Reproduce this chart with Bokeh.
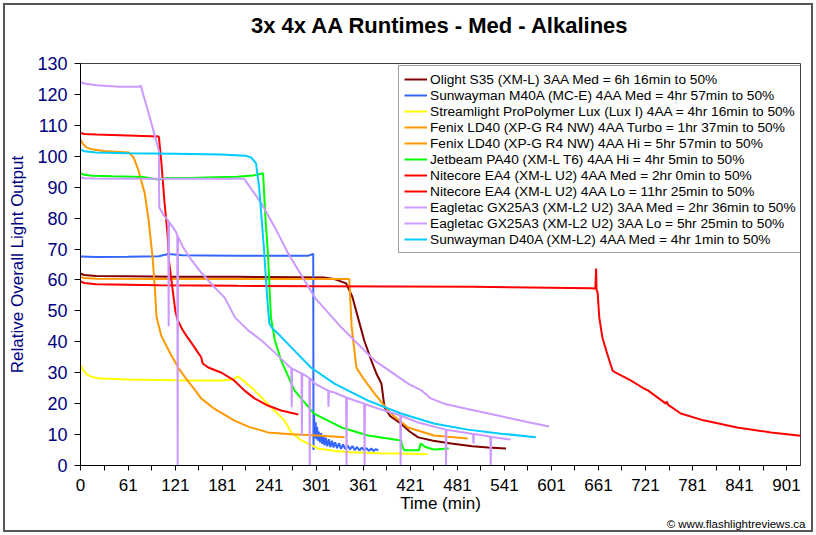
from bokeh.plotting import figure
from bokeh.models import Range1d, FixedTicker, Legend, LegendItem, Title, InlineStyleSheet
from bokeh.embed import file_html
from bokeh.resources import INLINE

# ---------------- data ----------------
olight_t = [0, 5, 20, 60, 120, 200, 280, 311, 325, 339, 347, 354, 362, 371, 378, 384, 388, 395, 409, 420, 431, 450, 473, 500, 520, 543]
olight_v = [62.0, 61.6, 61.3, 61.2, 61.0, 61.0, 60.9, 60.8, 60.2, 58.9, 54.5, 47.9, 40.5, 34.0, 29.5, 26.5, 18.8, 16.0, 13.5, 11.0, 9.1, 8.0, 7.1, 6.2, 5.8, 5.5]

m40a_t = [0, 20, 60, 100, 112, 130, 160, 200, 250, 290, 296, 297.0, 297.3, 298.0, 299.0, 300.0, 301.0, 302.0, 303.0, 304.0, 305.5, 307.0,
          308.5, 310.0, 311.5, 313.0, 315.0, 317.0, 319.0, 321.0, 323.0, 325.0, 327.5, 330.0, 332.5, 335.0, 338.0, 341.0, 344.0,
          347.0, 350.0, 353.0, 356.0, 359.0, 362.0, 365.0, 368.0, 371.0, 374.0, 377.0, 380.0]
m40a_v = [67.6, 67.4, 67.5, 67.7, 68.4, 68.0, 67.9, 67.8, 67.8, 67.8, 68.3, 68.5, 5.0, 16.5, 9.0, 14.0, 8.5, 12.5, 8.0, 11.0, 7.5, 10.5,
          7.0, 9.5, 6.5, 9.0, 6.2, 8.5, 6.0, 8.0, 5.8, 7.5, 5.6, 7.2, 5.4, 6.8, 5.3, 6.5, 5.2,
          6.3, 5.0, 6.0, 4.9, 5.8, 4.8, 5.6, 4.7, 5.5, 4.7, 5.3, 4.9]

streamlight_t = [0, 3, 8, 15, 25, 60, 120, 180, 195, 201, 210, 222, 241, 260, 269, 282, 303, 325, 345, 380, 409, 443]
streamlight_v = [32.3, 31.0, 29.5, 28.6, 28.1, 27.8, 27.6, 27.5, 27.8, 28.8, 27.0, 24.3, 19.4, 14.6, 10.7, 8.1, 5.5, 4.7, 4.3, 4.0, 3.9, 3.6]

ld40_turbo_t = [0, 3, 8, 14, 30, 50, 62, 68, 74, 82, 87, 92, 95, 97, 100, 103, 110, 116, 125, 135, 145, 154, 170, 196, 215, 239, 269, 303, 337]
ld40_turbo_v = [105.4, 104.0, 102.8, 102.3, 101.7, 101.4, 101.2, 99.5, 95.4, 88.0, 79.2, 67.3, 57.0, 48.0, 45.0, 42.0, 38.5, 35.6, 31.5, 28.0, 24.8, 21.7, 18.5, 14.6, 12.5, 10.7, 10.1, 9.7, 9.1]

ld40_hi_t = [0, 5, 20, 100, 200, 300, 343, 346, 352, 360, 375, 396, 418, 451, 494]
ld40_hi_v = [61.0, 60.6, 60.4, 60.3, 60.3, 60.3, 60.3, 45.0, 31.7, 28.5, 23.3, 16.8, 12.3, 9.7, 8.7]

pa40_t = [0, 5, 15, 40, 80, 99, 110, 140, 170, 200, 220, 228, 233, 236, 239, 243, 248, 256, 273, 298, 333, 367, 409, 411, 413, 432, 434, 440, 451, 470]
pa40_v = [94.5, 94.0, 93.7, 93.5, 93.3, 92.5, 93.0, 93.0, 93.2, 93.4, 93.8, 94.2, 94.5, 80.0, 69.5, 48.0, 40.5, 34.0, 24.3, 16.8, 12.3, 9.7, 8.1, 6.0, 4.9, 4.9, 7.1, 6.0, 5.2, 5.5]

ea4_med_t = [0, 5, 20, 60, 100, 103, 107, 111, 113, 118, 121, 124, 130, 135, 142, 150, 154, 156, 163, 180, 196, 209, 222, 239, 256, 278]
ea4_med_v = [107.5, 107.2, 107.0, 106.7, 106.4, 98.6, 85.7, 75.0, 66.0, 56.0, 50.0, 47.0, 44.0, 42.0, 39.5, 36.5, 35.0, 33.0, 31.7, 30.0, 27.5, 24.3, 21.7, 19.4, 17.8, 16.5]

ea4_lo_t = [0, 5, 20, 100, 200, 300, 400, 500, 600, 650, 657, 658, 658.5, 660, 662, 666, 672, 679, 683, 702, 719, 724, 747, 748, 750, 766, 795, 838, 881, 919, 930]
ea4_lo_v = [59.5, 59.0, 58.6, 58.3, 58.1, 58.0, 57.9, 57.8, 57.5, 57.3, 57.2, 63.7, 57.0, 55.6, 47.9, 41.4, 36.2, 30.7, 30.0, 27.5, 24.9, 24.3, 20.0, 20.7, 19.6, 16.8, 14.6, 12.3, 10.7, 9.6, 9.4]

gx25_med_t = [0, 5, 20, 50, 75, 77, 80, 86, 94, 100, 100.5, 106, 112, 112.5, 113, 118, 122, 123.5, 124, 124.5, 130, 140, 154, 171, 184, 197,
              214, 231, 248, 265, 269, 269.5, 270, 282, 282.5, 283, 292, 292.5, 293, 299, 316, 316.5, 317, 324, 339, 339.5, 340, 350,
              362, 362.5, 363, 375, 400, 408, 408.5, 409, 431, 466, 466.5, 467, 473, 501, 501.5, 502, 515, 523, 523.5, 524, 549]
gx25_med_v = [124.0, 123.5, 123.0, 122.5, 122.5, 122.9, 120.0, 114.8, 107.4, 101.9, 83.4, 81.0, 79.2, 45.0, 78.8, 77.0, 75.5, 74.5, 0.0, 74.0, 71.0, 67.0, 62.4, 57.6, 54.3, 47.9,
              43.7, 40.4, 36.5, 32.3, 31.5, 18.8, 31.3, 29.8, 9.7, 29.7, 28.3, 0.0, 28.2, 26.5, 24.2, 19.0, 24.1, 23.6, 22.0, 0.0, 21.9, 21.0,
              20.0, 0.0, 19.9, 18.8, 16.8, 16.2, 0.0, 16.1, 13.9, 11.6, 0.0, 11.5, 11.3, 10.2, 7.1, 10.2, 9.7, 9.3, 0.0, 9.2, 8.4]

gx25_lo_t = [0, 5, 20, 60, 120, 180, 209, 231, 248, 265, 299, 333, 375, 418, 435, 447, 464, 494, 537, 570, 598]
gx25_lo_v = [93.1, 92.9, 92.8, 92.7, 92.7, 92.7, 92.7, 84.7, 77.0, 68.6, 54.3, 44.6, 34.0, 26.5, 24.3, 21.7, 20.0, 18.3, 15.9, 14.1, 12.6]

d40a_t = [0, 5, 20, 60, 120, 180, 210, 218, 224, 228, 231, 234, 238, 241, 245, 252, 269, 294, 324, 367, 409, 451, 494, 537, 581]
d40a_v = [102.2, 101.6, 101.2, 101.0, 100.8, 100.6, 100.2, 99.6, 97.7, 89.9, 80.2, 70.5, 55.0, 45.9, 44.3, 42.7, 38.2, 31.7, 26.5, 21.0, 16.8, 13.6, 11.6, 10.3, 9.1]

series_names = [
    "Olight S35 (XM-L) 3AA Med = 6h 16min to 50%",
    "Sunwayman M40A (MC-E) 4AA Med = 4hr 57min to 50%",
    "Streamlight ProPolymer Lux (Lux I) 4AA = 4hr 16min to 50%",
    "Fenix LD40 (XP-G R4 NW) 4AA Turbo = 1hr 37min to 50%",
    "Fenix LD40 (XP-G R4 NW) 4AA Hi = 5hr 57min to 50%",
    "Jetbeam PA40 (XM-L T6) 4AA Hi = 4hr 5min to 50%",
    "Nitecore EA4 (XM-L U2) 4AA Med = 2hr 0min to 50%",
    "Nitecore EA4 (XM-L U2) 4AA Lo = 11hr 25min to 50%",
    "Eagletac GX25A3 (XM-L2 U2) 3AA Med = 2hr 36min to 50%",
    "Eagletac GX25A3 (XM-L2 U2) 3AA Lo = 5hr 25min to 50%",
    "Sunwayman D40A (XM-L2) 4AA Med = 4hr 1min to 50%",
]
series_colors = ["#800000", "#3366FF", "#FFFF00", "#FF9900", "#FF9900", "#00FF00",
                 "#FF0000", "#FF0000", "#CC99FF", "#CC99FF", "#00CCFF"]
series_data = [
    (olight_t, olight_v), (m40a_t, m40a_v), (streamlight_t, streamlight_v),
    (ld40_turbo_t, ld40_turbo_v), (ld40_hi_t, ld40_hi_v), (pa40_t, pa40_v),
    (ea4_med_t, ea4_med_v), (ea4_lo_t, ea4_lo_v), (gx25_med_t, gx25_med_v),
    (gx25_lo_t, gx25_lo_v), (d40a_t, d40a_v),
]

x_ticks = [0] + [1 + 30 * k for k in range(1, 31)]
x_tick_labels = ["0", "61", "121", "181", "241", "301", "361", "421", "481", "541", "601", "661", "721", "781", "841", "901"]
y_ticks = list(range(0, 131, 10))

title_text = "3x 4x AA Runtimes - Med - Alkalines"
x_label = "Time (min)"
y_label = "Relative Overall Light Output"
copyright_text = "\u00a9 www.flashlightreviews.ca"

FONT = "Liberation Sans"
NAVY = "#000080"

# ---------------- figure ----------------
# host is 806x525 with a 5px margin, so it spans 5..811 x 5..530 of the page
p = figure(width=806, height=525, output_backend="svg", toolbar_location=None,
           x_range=Range1d(0, 918.8), y_range=Range1d(0, 130),
           min_border_left=74, min_border_right=11, min_border_top=58, min_border_bottom=65)
p.background_fill_color = "white"
p.border_fill_color = "white"
p.outline_line_color = "#404040"
p.outline_line_width = 1
p.grid.visible = False
p.stylesheets = [InlineStyleSheet(css=":host { margin: 5px; outline: 2px solid #555555; outline-offset: 0px; }")]

# spacer nearest the frame, then the main title above it
p.add_layout(Title(text=" ", text_font=FONT, text_font_size="8px"), "above")
p.add_layout(Title(text=title_text, align="center", offset=6,
                   text_font=FONT, text_font_size="22px", text_font_style="bold", text_color="black"), "above")

# axes
overrides = {}
for i, t in enumerate(x_ticks):
    overrides[t] = x_tick_labels[i // 2] if i % 2 == 0 else ""
p.xaxis.ticker = FixedTicker(ticks=x_ticks)
p.xaxis.major_label_overrides = overrides
p.yaxis.ticker = FixedTicker(ticks=y_ticks)
for ax in (p.xaxis, p.yaxis):
    ax.major_tick_in = 0
    ax.minor_tick_in = 0
    ax.minor_tick_out = 0
    ax.axis_line_color = "black"
    ax.major_tick_line_color = "black"
    ax.major_label_text_font = FONT
    ax.axis_label_text_font = FONT
    ax.axis_label_text_font_size = "17px"
    ax.axis_label_text_font_style = "normal"
p.xaxis.major_tick_out = 5
p.yaxis.major_tick_out = 6
p.xaxis.major_label_text_font_size = "17px"
p.yaxis.major_label_text_font_size = "18px"
p.xaxis.major_label_text_color = "black"
p.xaxis.major_label_standoff = 8
p.xaxis.axis_label = x_label
p.xaxis.axis_label_text_color = "black"
p.xaxis.axis_label_standoff = 0
p.yaxis.major_label_text_color = NAVY
p.yaxis.major_label_standoff = 7
p.yaxis.axis_label = y_label
p.yaxis.axis_label_text_color = NAVY
p.yaxis.axis_label_standoff = 7

# copyright note under the axis title, right aligned
p.add_layout(Title(text=copyright_text, align="right", offset=-5, standoff=0,
                   text_font=FONT, text_font_size="11.5px", text_font_style="normal", text_color="black"), "below")

# lines
items = []
for name, color, (t, v) in zip(series_names, series_colors, series_data):
    r = p.line(t, v, line_color=color, line_width=2)
    items.append(LegendItem(label=name, renderers=[r]))

legend = Legend(items=items, location=(318, 212), orientation="vertical",
                label_text_font=FONT, label_text_font_size="13.7px", label_text_color="black",
                label_height=16, glyph_height=16, glyph_width=23, label_standoff=3,
                spacing=0, padding=5, margin=0,
                border_line_color="#404040", border_line_width=1,
                background_fill_color="white", background_fill_alpha=1.0)
p.add_layout(legend, "center")

open("out.html", "w").write(file_html(p, INLINE))
